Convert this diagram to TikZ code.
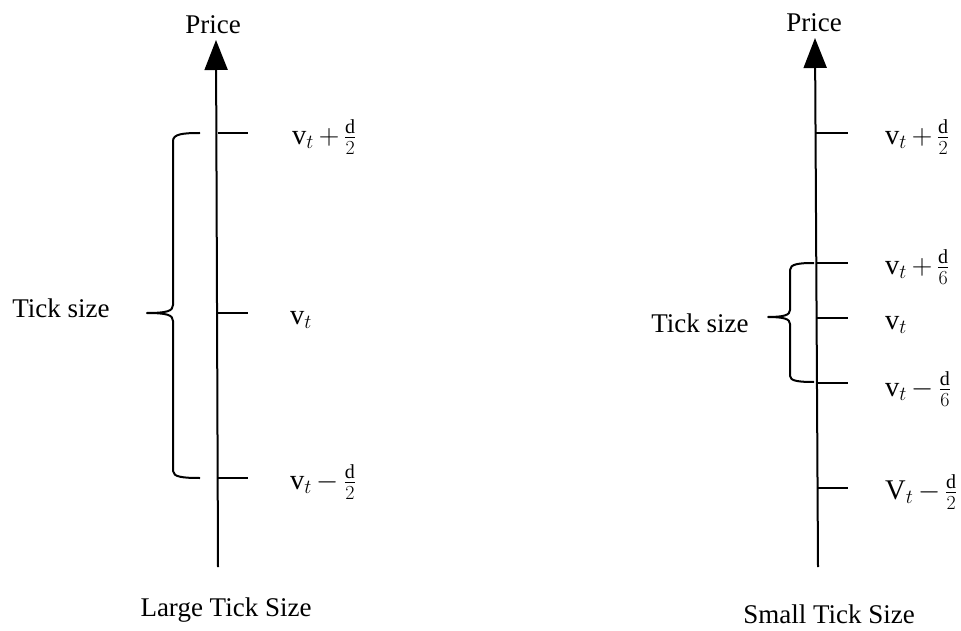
\RequirePackage{fix-cm}
\documentclass[tikz,border=0pt]{standalone}
\usepackage{amsmath}
\usepackage{fontspec}
\setmainfont{Liberation Serif}
\usetikzlibrary{arrows.meta}
\medmuskip=3mu plus 1mu minus 1mu
\tikzset{
  axisline/.style={line width=2pt,-{Triangle[width=23pt,length=30pt]}},
  tickline/.style={line width=2pt},
  bracket/.style={line width=2pt,line join=round},
  lbl/.style={font=\fontsize{27}{32}\selectfont,inner sep=0pt},
  mlbl/.style={font=\fontsize{28.5}{34}\selectfont,inner sep=0pt,anchor=west},
}
\begin{document}
\begin{tikzpicture}[x=1pt,y=-1pt]
\useasboundingbox (0,0) rectangle (961,631);
% ---- left axis ----
\coordinate (LB) at (218,567);
\coordinate (LT) at (216,40);
\draw[axisline] (LB) -- (LT);
\node[lbl,anchor=south] (Lprice) at (213,34) {Price};
\coordinate (L1a) at (217.5,133); \coordinate (L1b) at (248,133);
\coordinate (L2a) at (218,313);   \coordinate (L2b) at (248,313);
\coordinate (L3a) at (218,478);   \coordinate (L3b) at (248,478);
\draw[tickline] (L1a) -- (L1b);
\draw[tickline] (L2a) -- (L2b);
\draw[tickline] (L3a) -- (L3b);
\node[mlbl] (Lv1) at (292,137) {$\mathrm{v}_t+\frac{\mathrm{d}}{2}$};
\node[mlbl] (Lv2) at (290,320) {$\mathrm{v}_t$};
\node[mlbl] (Lv3) at (290,482) {$\mathrm{v}_t-\frac{\mathrm{d}}{2}$};
\draw[bracket] (200,133) .. controls (183,133) and (173,134) .. (173,141)
  -- (173,305) .. controls (173,311) and (167,313) .. (147,313)
  .. controls (167,313) and (173,315) .. (173,321)
  -- (173,471) .. controls (173,477) and (183,478) .. (200,478);
\node[lbl] (Ltick) at (61,308) {Tick size};
\node[lbl] (Lcap) at (226,610) {Large Tick Size};
% ---- right axis ----
\coordinate (RB) at (818,567);
\coordinate (RT) at (815,38);
\draw[axisline] (RB) -- (RT);
\node[lbl,anchor=south] (Rprice) at (814,32) {Price};
\coordinate (R1a) at (816,133); \coordinate (R1b) at (848,133);
\coordinate (R2a) at (816.5,263); \coordinate (R2b) at (848,263);
\coordinate (R3a) at (817,318); \coordinate (R3b) at (848,318);
\coordinate (R4a) at (817,383); \coordinate (R4b) at (848,383);
\coordinate (R5a) at (817.5,488); \coordinate (R5b) at (848,488);
\draw[tickline] (R1a) -- (R1b);
\draw[tickline] (R2a) -- (R2b);
\draw[tickline] (R3a) -- (R3b);
\draw[tickline] (R4a) -- (R4b);
\draw[tickline] (R5a) -- (R5b);
\node[mlbl] (Rv1) at (885,137) {$\mathrm{v}_t+\frac{\mathrm{d}}{2}$};
\node[mlbl] (Rv2) at (885,267) {$\mathrm{v}_t+\frac{\mathrm{d}}{6}$};
\node[mlbl] (Rv3) at (885,325) {$\mathrm{v}_t$};
\node[mlbl] (Rv4) at (885,389) {$\mathrm{v}_t-\frac{\mathrm{d}}{6}$};
\node[mlbl] (Rv5) at (885,492) {$\mathrm{V}_t-\frac{\mathrm{d}}{2}$};
\draw[bracket] (814,263) .. controls (799,263) and (790,264) .. (790,270)
  -- (790,310) .. controls (790,315) and (784,317) .. (768,317)
  .. controls (784,317) and (790,319) .. (790,324)
  -- (790,376) .. controls (790,381) and (799,382) .. (814,382);
\node[lbl] (Rtick) at (700,323) {Tick size};
\node[lbl] (Rcap) at (829,614) {Small Tick Size};
\end{tikzpicture}
\end{document}
